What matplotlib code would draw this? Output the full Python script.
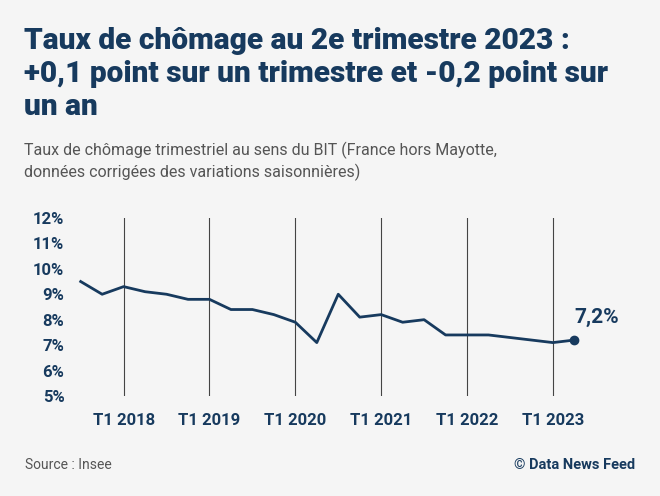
import matplotlib.pyplot as plt

plt.rcParams['font.family'] = ['Roboto', 'DejaVu Sans']

quarters = list(range(24))  # T3 2017 .. T2 2023
rates = [9.5, 9.0, 9.3, 9.1, 9.0, 8.8, 8.8, 8.4, 8.4, 8.2, 7.9, 7.1,
         9.0, 8.1, 8.2, 7.9, 8.0, 7.4, 7.4, 7.4, 7.3, 7.2, 7.1, 7.2]
tick_pos = [2, 6, 10, 14, 18, 22]
tick_labels = ['T1 2018', 'T1 2019', 'T1 2020', 'T1 2021', 'T1 2022', 'T1 2023']
yticks = [5, 6, 7, 8, 9, 10, 11, 12]

bg = '#f5f5f5'
navy = '#173a5e'

fig = plt.figure(figsize=(6.6, 4.96), dpi=100, facecolor=bg)
ax = fig.add_axes([0.106, 0.2016, 0.8, 0.359], facecolor=bg)

for t in tick_pos:
    ax.axvline(t, color='#444444', lw=0.8, zorder=1)
ax.plot(quarters, rates, color=navy, lw=2, zorder=3)
ax.plot(quarters[-1], rates[-1], 'o', color=navy, ms=6, zorder=4)
ax.annotate('7,2%', (quarters[-1], rates[-1]), xytext=(0, 12), textcoords='offset points',
            ha='left', fontsize=15, fontweight='bold', color=navy)

ax.set_xlim(-0.5, 24.1)
ax.set_ylim(5, 12)
ax.set_yticks(yticks)
ax.set_yticklabels([f'{v}%' for v in yticks], fontsize=12, fontweight='bold', color=navy)
ax.set_xticks(tick_pos)
ax.set_xticklabels(tick_labels, fontsize=12, fontweight='bold', color=navy)
ax.tick_params(length=0, pad=12)
ax.tick_params(axis='y', pad=4)
for s in ax.spines.values():
    s.set_visible(False)

fig.text(0.036, 0.945, 'Taux de chômage au 2e trimestre 2023 :\n+0,1 point sur un trimestre et -0,2 point sur\nun an',
         fontsize=21.5, fontweight='heavy', color=navy, va='top', linespacing=1.22)
fig.text(0.036, 0.635, 'Taux de chômage trimestriel au sens du BIT (France hors Mayotte,\ndonnées corrigées des variations saisonnières)',
         fontsize=11.5, color='#555555', va='bottom', linespacing=1.35)
fig.text(0.038, 0.055, 'Source : Insee', fontsize=10, color='#555555')
fig.text(0.962, 0.055, '© Data News Feed', fontsize=10.5, fontweight='bold', color=navy, ha='right')

fig.savefig('out.png', facecolor=bg)
